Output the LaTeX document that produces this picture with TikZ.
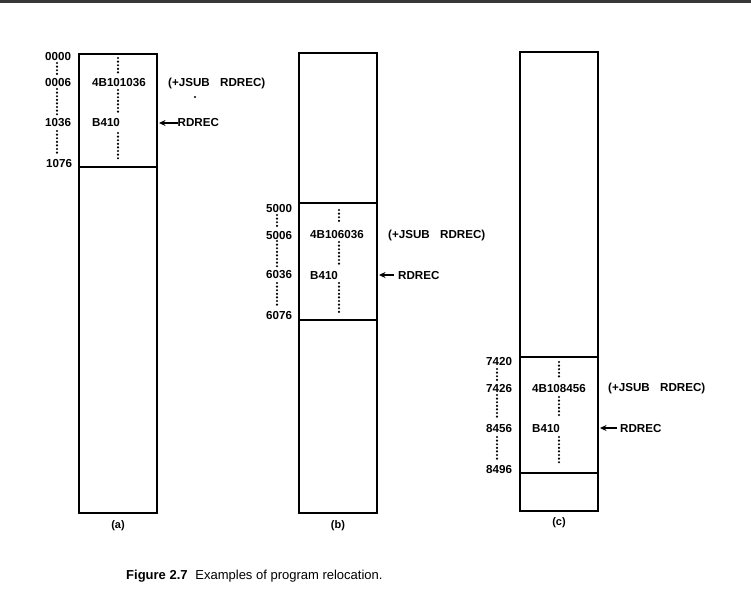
\documentclass[tikz,border=0pt]{standalone}
\usepackage{fontspec}
\setmainfont{Liberation Sans}
\usetikzlibrary{arrows.meta}
\tikzset{
  membox/.style={draw, line width=1.2pt},
  dotcol/.style={line width=2.4pt, line cap=round, dash pattern=on 0pt off 3.6pt},
  lbl/.style={font=\bfseries\fontsize{11.6}{12}\selectfont, inner sep=0pt, anchor=west},
  sublbl/.style={font=\bfseries\fontsize{11}{12}\selectfont, inner sep=0pt},
  ptr/.style={line width=1.3pt, -{Stealth[length=6.5pt,width=6pt]}}
}
\begin{document}
\begin{tikzpicture}[x=1pt,y=-1pt]
\useasboundingbox (0,0) rectangle (751,603);
\fill[black!78] (0,0) rectangle (751,2.6);

% ---------- panel (a)
\draw[membox] (79,54) rectangle (157,513);
\draw[membox] (79,167) -- (157,167);
\node[lbl] (a0) at (45,57) {0000};
\node[lbl] (a1) at (45,83) {0006};
\node[lbl] (a2) at (45,123) {1036};
\node[lbl] (a3) at (46,164) {1076};
\draw[dotcol] (57,63) -- (57,77);
\draw[dotcol] (57,89) -- (57,115);
\draw[dotcol] (57,131) -- (57,156);
\draw[dotcol] (118,58) -- (118,74);
\draw[dotcol] (118,90) -- (118,115);
\draw[dotcol] (118,133) -- (118,160);
\node[lbl] (aw1) at (92,83) {4B101036};
\node[lbl] (aw2) at (92,123) {B410};
\node[lbl] (ajs) at (168,83) {(+JSUB\hspace{0.9em}RDREC)};
\fill (195,97) circle (1.2pt);
\node[lbl] (ard) at (177.5,123) {RDREC};
\coordinate (atip) at (159,123);
\draw[ptr] (ard.west) -- (atip);
\node[sublbl] (la) at (118,526) {(a)};

% ---------- panel (b)
\draw[membox] (299,53) rectangle (377,513);
\draw[membox] (299,203) -- (377,203);
\draw[membox] (299,320) -- (377,320);
\node[lbl] (b0) at (266,208) {5000};
\node[lbl] (b1) at (266,235) {5006};
\node[lbl] (b2) at (266,275) {6036};
\node[lbl] (b3) at (266,315) {6076};
\draw[dotcol] (277,215) -- (277,228);
\draw[dotcol] (277,241) -- (277,267);
\draw[dotcol] (277,283) -- (277,306);
\draw[dotcol] (339,210) -- (339,223);
\draw[dotcol] (339,242) -- (339,265);
\draw[dotcol] (339,283) -- (339,312);
\node[lbl] (bw1) at (310,235) {4B106036};
\node[lbl] (bw2) at (310,275) {B410};
\node[lbl] (bjs) at (388,235) {(+JSUB\hspace{0.9em}RDREC)};
\node[lbl] (brd) at (398,275) {RDREC};
\coordinate (btip) at (379,275);
\coordinate (bend) at (394,275);
\draw[ptr] (bend) -- (btip);
\node[sublbl] (lb) at (338,526) {(b)};

% ---------- panel (c)
\draw[membox] (520,52) rectangle (598,511);
\draw[membox] (520,357) -- (598,357);
\draw[membox] (520,473) -- (598,473);
\node[lbl] (c0) at (486,361) {7420};
\node[lbl] (c1) at (486,388) {7426};
\node[lbl] (c2) at (486,428) {8456};
\node[lbl] (c3) at (486,469) {8496};
\draw[dotcol] (497,369) -- (497,380);
\draw[dotcol] (497,395) -- (497,420);
\draw[dotcol] (497,437) -- (497,460);
\draw[dotcol] (559,362) -- (559,378);
\draw[dotcol] (559,397) -- (559,418);
\draw[dotcol] (559,437) -- (559,465);
\node[lbl] (cw1) at (532,388) {4B108456};
\node[lbl] (cw2) at (532,428) {B410};
\node[lbl] (cjs) at (608,388) {(+JSUB\hspace{0.9em}RDREC)};
\node[lbl] (crd) at (620,428) {RDREC};
\coordinate (ctip) at (600,428);
\coordinate (cend) at (617,428);
\draw[ptr] (cend) -- (ctip);
\node[sublbl] (lc) at (559,523) {(c)};

% ---------- caption
\node[inner sep=0pt, anchor=west, font=\fontsize{13}{14}\selectfont] (fig) at (126,576)
  {\textbf{Figure 2.7}\hspace{0.6em}Examples of program relocation.};
\end{tikzpicture}
\end{document}
